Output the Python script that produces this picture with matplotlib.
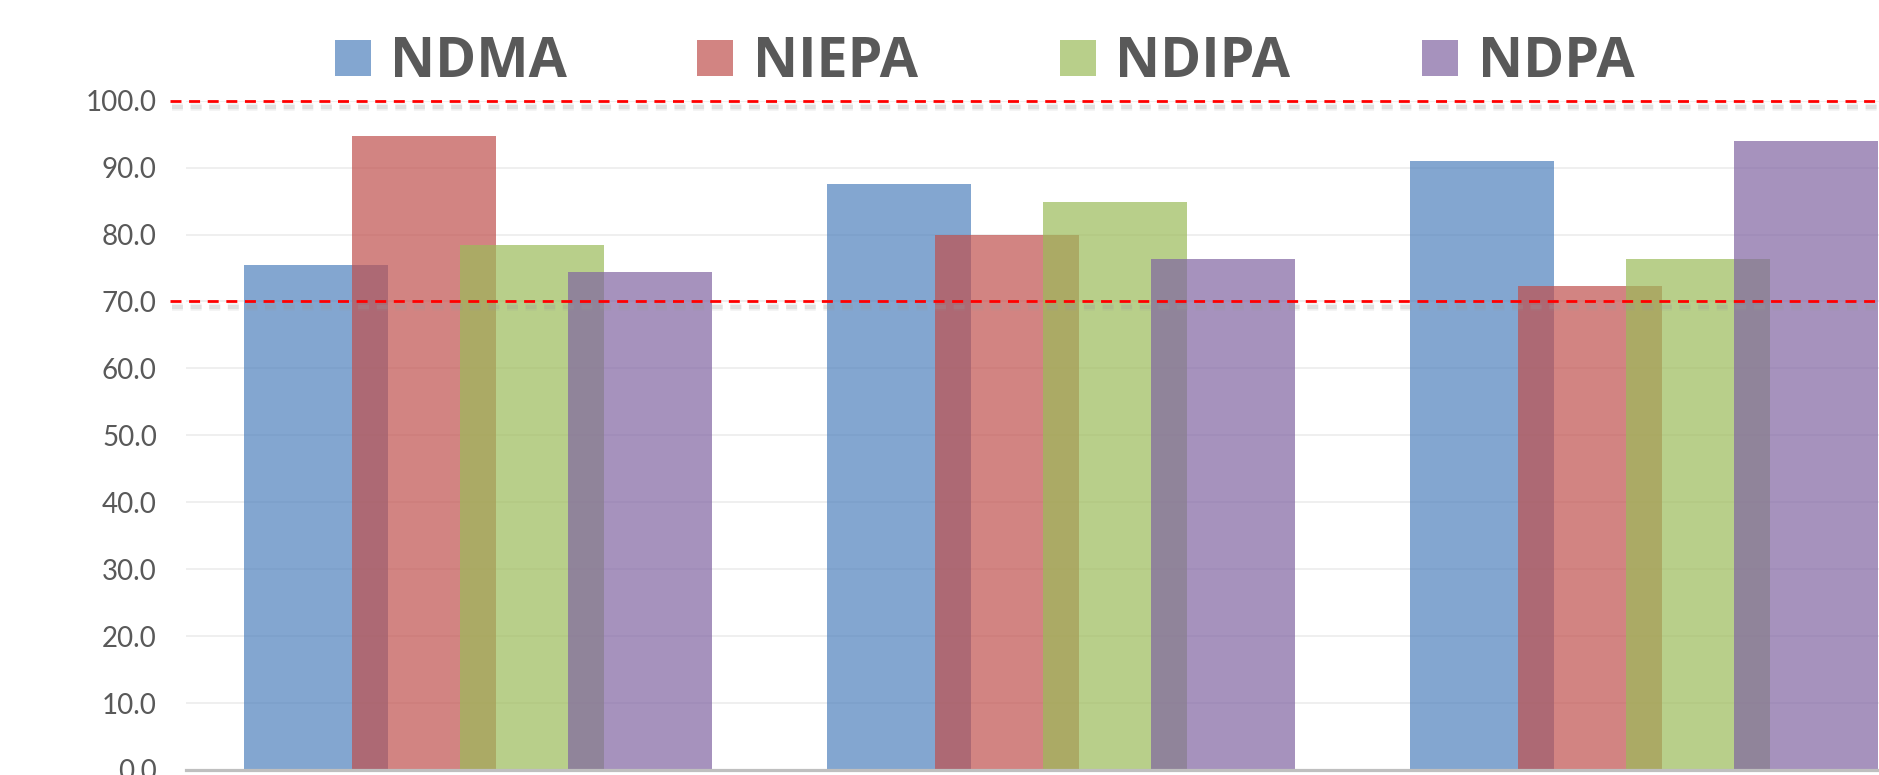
import matplotlib
matplotlib.use("Agg")
import matplotlib.pyplot as plt
import numpy as np
from matplotlib import patheffects as pe
from matplotlib.patches import Rectangle

# Scores per series, one value per group
series_names = ["NDMA", "NIEPA", "NDIPA", "NDPA"]
ndma = [75.4, 87.6, 91.0]
niepa = [94.8, 80.0, 72.3]
ndipa = [78.5, 84.8, 76.3]
ndpa = [74.4, 76.4, 94.0]
series_values = [ndma, niepa, ndipa, ndpa]
series_colors = ["#4F81BD", "#C0504D", "#9BBB59", "#8064A2"]

# Reference thresholds drawn as dashed lines
thresholds = [100, 70]
y_ticks = np.arange(0, 101, 10)

plt.rcParams["font.family"] = ["Lato", "DejaVu Sans"]

W, H = 1879, 775
fig = plt.figure(figsize=(W / 100, H / 100), dpi=100)

ax_left_px, ax_bottom_px, ax_top_px = 186, 5, 100.7
ax = fig.add_axes([ax_left_px / W, ax_bottom_px / H,
                   1 - ax_left_px / W, 1 - (ax_bottom_px + ax_top_px) / H])

# Excel-like clustered layout: gap width 80 %, overlap 25 %
gap, overlap = 0.8, 0.25
n = len(series_values)
bar_w = 1 / (n - (n - 1) * overlap + gap)
step = bar_w * (1 - overlap)
x = np.arange(len(ndma))

for i, (vals, col) in enumerate(zip(series_values, series_colors)):
    ax.bar(x + (i - (n - 1) / 2) * step, vals, width=bar_w, color=col,
           alpha=0.7, linewidth=0, zorder=2 + i)

px_per_cat = 583.3
ax.set_xlim(-0.5, -0.5 + (W - ax_left_px) / px_per_cat)
ax.set_ylim(0, 100)
ax.set_xticks([])
ax.set_yticks(y_ticks)
ax.set_yticklabels([f"{v:.1f}" for v in y_ticks])
ax.tick_params(axis="y", length=0, pad=21, labelsize=20, labelcolor="#595959")
ax.yaxis.grid(True, color="#EFEFEF", linewidth=1.4)
ax.set_axisbelow(True)
for s in ("left", "right", "top"):
    ax.spines[s].set_visible(False)
ax.spines["bottom"].set_color("#BFBFBF")
ax.spines["bottom"].set_linewidth(2.3)
ax.spines["bottom"].set_zorder(20)

axis_w_px = W - ax_left_px
for t in thresholds:
    ax.axhline(t, xmin=-16 / axis_w_px, xmax=1, color="#FF0000", lw=2,
               ls=(0, (3.95, 2.75)), clip_on=False, zorder=10,
               path_effects=[
                   pe.SimpleLineShadow(offset=(1.2, -4.3), shadow_color="#999999",
                                       alpha=0.12, linewidth=5.5),
                   pe.SimpleLineShadow(offset=(1.2, -4.3), shadow_color="#999999",
                                       alpha=0.2, linewidth=3),
                   pe.Normal()])

# Legend row across the top
lg = fig.add_axes([0, 0, 1, 1], zorder=30)
lg.set_xlim(0, W)
lg.set_ylim(H, 0)
lg.axis("off")
sq_x0, sq_dx, sq_size, sq_top = 335, 362.5, 36, 40
for i, (name, col) in enumerate(zip(series_names, series_colors)):
    sx = sq_x0 + i * sq_dx
    lg.add_patch(Rectangle((sx, sq_top), sq_size, sq_size, facecolor=col,
                           alpha=0.7, linewidth=0))
    lg.text(sx + 55.5, 76.7, name, fontsize=40, fontweight="bold",
            family=["Open Sans", "DejaVu Sans"], color="#595959",
            ha="left", va="baseline")

fig.savefig("out.png", dpi=100)
